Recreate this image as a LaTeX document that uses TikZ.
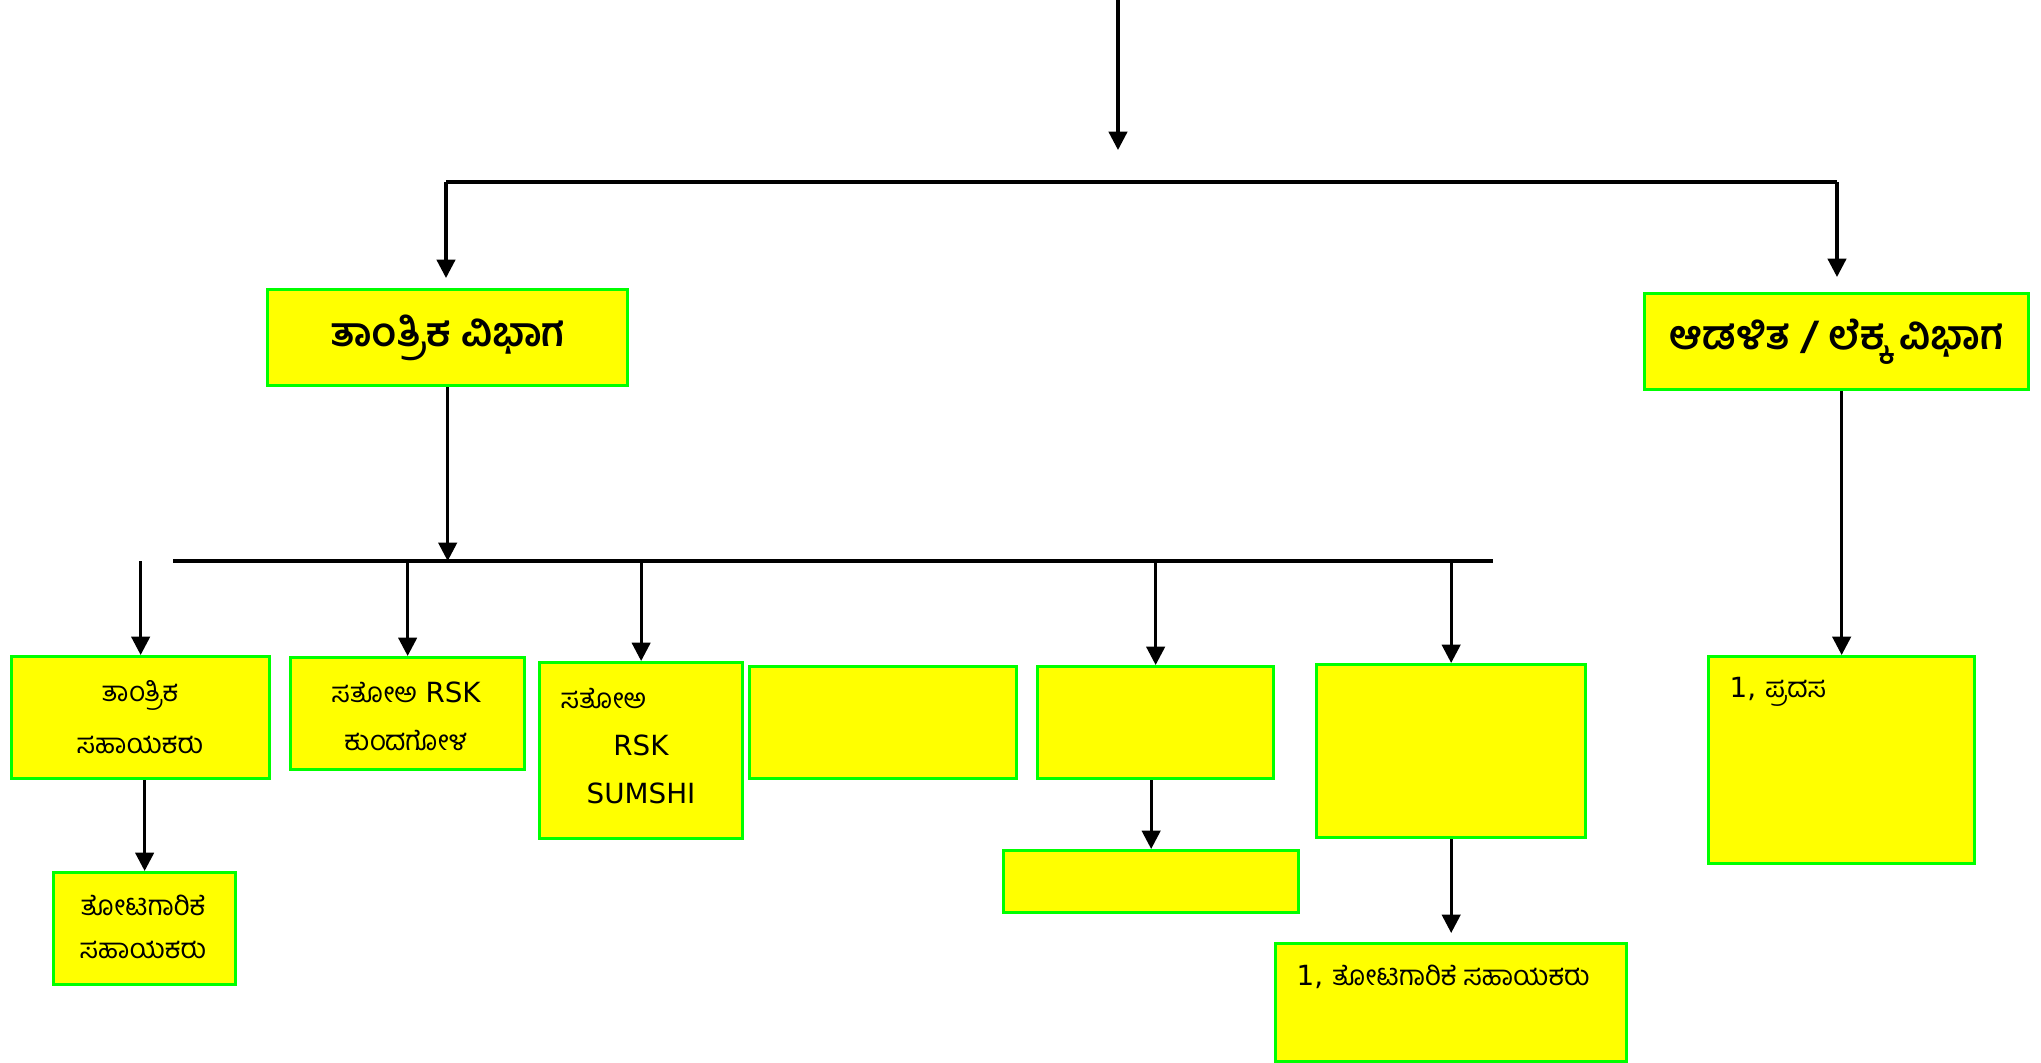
\documentclass[tikz,border=0pt]{standalone}
\usepackage{fontspec}
\setmainfont{DejaVu Sans}
\newfontfamily\kn[Script=Kannada]{Hind Mysuru}
\usetikzlibrary{arrows.meta}

\definecolor{boxyellow}{RGB}{255,255,0}
\definecolor{boxgreen}{RGB}{0,255,0}

\tikzset{
  ybox/.style={draw=boxgreen, fill=boxyellow, line width=0.9pt, anchor=north west, inner sep=0pt},
  conn/.style={line width=0.9pt},
  arr/.style={conn, -{Triangle[width=5.2pt,length=5.2pt]}},
  small/.style={font=\fontsize{7.9}{10}\selectfont, inner sep=0pt},
  big/.style={font=\kn\bfseries\fontsize{11.4}{14}\selectfont, inner sep=0pt}
}

\begin{document}
\begin{tikzpicture}[x=0.01cm, y=-0.01cm]
  \useasboundingbox (0,0) rectangle (2041,1062);

  % top level boxes
  \node[ybox, minimum width=3.6cm, minimum height=0.96cm] (tantrika) at (266,288) {};
  \node[ybox, minimum width=3.84cm, minimum height=0.96cm] (adalita) at (1643,292) {};
  \node[big] (tantrikaT) at (tantrika.center) {ತಾಂತ್ರಿಕ ವಿಭಾಗ};
  \node[big] (adalitaT) at (adalita.center) {ಆಡಳಿತ / ಲೆಕ್ಕ ವಿಭಾಗ};

  % second row
  \node[ybox, minimum width=2.58cm, minimum height=1.22cm] (tsaha) at (10,655) {};
  \node[ybox, minimum width=2.34cm, minimum height=1.12cm] (kunda) at (289,656) {};
  \node[ybox, minimum width=2.03cm, minimum height=1.76cm] (sumshi) at (538,661) {};
  \node[ybox, minimum width=2.67cm, minimum height=1.12cm] (blankA) at (748,665) {};
  \node[ybox, minimum width=2.36cm, minimum height=1.12cm] (blankB) at (1036,665) {};
  \node[ybox, minimum width=2.69cm, minimum height=1.73cm] (blankC) at (1315,663) {};
  \node[ybox, minimum width=2.66cm, minimum height=2.07cm] (pradasa) at (1707,655) {};

  % third row
  \node[ybox, minimum width=1.82cm, minimum height=1.12cm] (tota) at (52,871) {};
  \node[ybox, minimum width=2.95cm, minimum height=0.62cm] (blankD) at (1002,849) {};
  \node[ybox, minimum width=3.51cm, minimum height=1.18cm] (totaB) at (1274,942) {};

  % texts
  \node[small] (tsahaT1) at (140,695) {\kn ತಾಂತ್ರಿಕ};
  \node[small] (tsahaT2) at (140,745) {\kn ಸಹಾಯಕರು};
  \node[small] (kundaT1) at (406,692) {{\kn ಸತೋಅ} RSK};
  \node[small] (kundaT2) at (406,740) {\kn ಕುಂದಗೋಳ};
  \node[small, anchor=west] (sumshiT1) at (560,698) {\kn ಸತೋಅ};
  \node[small] (sumshiT2) at (641,745) {RSK};
  \node[small] (sumshiT3) at (641,793) {SUMSHI};
  \node[small] (totaT1) at (143,905) {\kn ತೋಟಗಾರಿಕೆ};
  \node[small] (totaT2) at (143,950) {\kn ಸಹಾಯಕರು};
  \node[small, anchor=west] (totaBT) at (1296,977) {1, {\kn ತೋಟಗಾರಿಕೆ ಸಹಾಯಕರು}};
  \node[small, anchor=west] (pradasaT) at (1729,692) {1, {\kn ಪ್ರದಸ}};

  % connectors
  \coordinate (top) at (1118,0);
  \coordinate (topend) at (1118,150);
  \coordinate (bar0l) at (446,182);
  \coordinate (bar0r) at (1837,182);
  \coordinate (bar1l) at (173,561);
  \coordinate (bar1r) at (1493,561);

  \draw[arr] (top) -- (topend);
  \draw[conn] (bar0l) -- (bar0r);
  \draw[arr, shorten >=0.1cm] (bar0l) -- (bar0l |- tantrika.north);
  \draw[arr, shorten >=0.15cm] (bar0r) -- (bar0r |- adalita.north);

  \draw[arr] (tantrika.south) -- (tantrika.south |- bar1l);
  \draw[conn] (bar1l) -- (bar1r);
  \draw[arr] (tsaha.north |- bar1l) -- (tsaha.north);
  \draw[arr] (kunda.north |- bar1l) -- (kunda.north);
  \draw[arr] (sumshi.north |- bar1l) -- (sumshi.north);
  \draw[arr] (blankB.north |- bar1l) -- (blankB.north);
  \draw[arr] (blankC.north |- bar1l) -- (blankC.north);

  \draw[arr] (adalita.south -| pradasa.north) -- (pradasa.north);
  \draw[arr] (tsaha.south -| tota.north) -- (tota.north);
  \draw[arr] (blankB.south -| blankD.north) -- (blankD.north);
  \draw[arr, shorten >=0.09cm] (blankC.south -| totaB.north) -- (totaB.north);
\end{tikzpicture}
\end{document}
